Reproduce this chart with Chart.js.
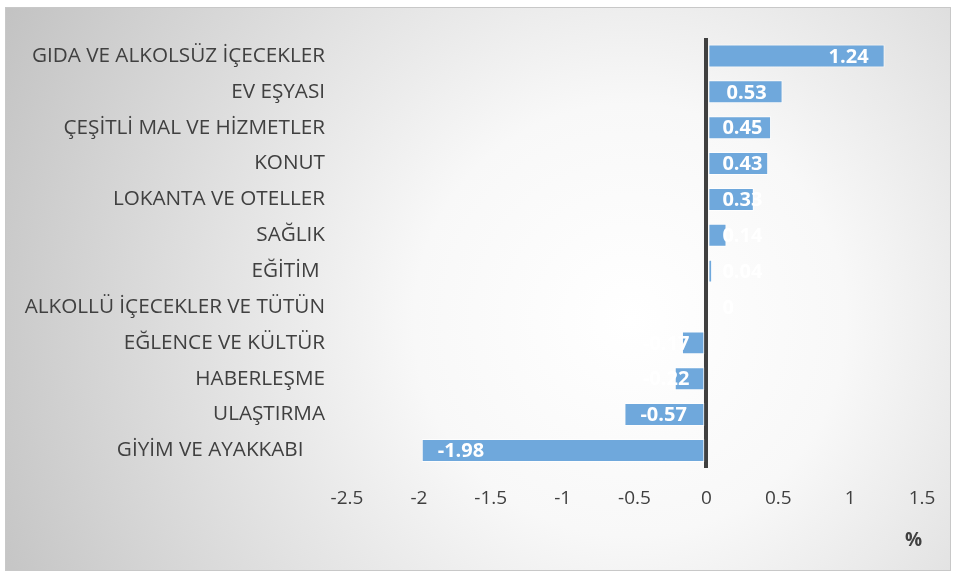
<!DOCTYPE html>
<html>
<head>
<meta charset="utf-8">
<script src="https://cdn.jsdelivr.net/npm/chart.js@4.4.0/dist/chart.umd.min.js"></script>
<style>
  html, body { margin: 0; padding: 0; background: #fff; }
  #wrap { width: 957px; height: 577px; position: relative; }
</style>
</head>
<body>
<div id="wrap"><canvas id="c" width="957" height="577"></canvas></div>
<script>
const categories = [
    'GIDA VE ALKOLSÜZ İÇECEKLER',
    'EV EŞYASI',
    'ÇEŞİTLİ MAL VE HİZMETLER',
    'KONUT',
    'LOKANTA VE OTELLER',
    'SAĞLIK',
    'EĞİTİM ',
    'ALKOLLÜ İÇECEKLER VE TÜTÜN',
    'EĞLENCE VE KÜLTÜR',
    'HABERLEŞME',
    'ULAŞTIRMA',
    'GİYİM VE AYAKKABI    '
];
const values = [1.24, 0.53, 0.45, 0.43, 0.33, 0.14, 0.04, 0, -0.17, -0.22, -0.57, -1.98];
const xMin = -2.5, xMax = 1.5, xStep = 0.5;

const fontFamily = "'Open Sans', sans-serif";
const textColor = '#404040';

// grey frame with soft radial light in the middle
const backgroundPlugin = {
    id: 'bg',
    beforeDraw(chart) {
        const ctx = chart.ctx;
        const x0 = 5, y0 = 7, x1 = 951, y1 = 571;
        const g = ctx.createRadialGradient(630, 320, 0, 630, 320, 720);
        g.addColorStop(0, '#ffffff');
        g.addColorStop(0.3, '#f8f8f8');
        g.addColorStop(1, '#c0c0c0');
        ctx.save();
        ctx.fillStyle = g;
        ctx.fillRect(x0, y0, x1 - x0, y1 - y0);
        ctx.strokeStyle = '#c8c8c8';
        ctx.lineWidth = 1;
        ctx.strokeRect(x0 + 0.5, y0 + 0.5, x1 - x0 - 1, y1 - y0 - 1);
        ctx.restore();
    }
};

// white value labels at the bar ends, kept off the zero line
const valueLabels = {
    id: 'valueLabels',
    afterDatasetsDraw(chart) {
        const ctx = chart.ctx;
        const zero = chart.scales.x.getPixelForValue(0);
        const meta = chart.getDatasetMeta(0);
        ctx.save();
        ctx.font = "bold 20px " + fontFamily;
        ctx.fillStyle = '#ffffff';
        ctx.textBaseline = 'middle';
        ctx.textAlign = 'left';
        meta.data.forEach((bar, i) => {
            const txt = String(values[i]);
            const w = ctx.measureText(txt).width;
            let left;
            if (values[i] >= 0) {
                const right = Math.max(bar.x - 16, zero + 16 + w);
                left = right - w;
            } else {
                left = Math.min(bar.x + 16, zero - 17 - w);
            }
            ctx.fillText(txt, left, bar.y + 1);
        });
        ctx.restore();
    }
};

new Chart(document.getElementById('c'), {
    type: 'bar',
    data: {
        labels: categories,
        datasets: [{
            data: values,
            backgroundColor: '#6fa8dc',
            borderColor: 'rgba(255,255,255,0.75)',
            borderWidth: 1,
            borderSkipped: false,
            barPercentage: 0.8,
            categoryPercentage: 0.8
        }]
    },
    options: {
        indexAxis: 'y',
        responsive: false,
        animation: false,
        layout: { padding: { left: 5, right: 35, top: 38, bottom: 25 } },
        plugins: {
            legend: { display: false },
            tooltip: { enabled: false }
        },
        scales: {
            x: {
                min: xMin,
                max: xMax,
                z: 1,
                border: { display: false },
                grid: {
                    drawTicks: false,
                    color: c => (c.tick && c.tick.value === 0) ? '#404040' : 'rgba(0,0,0,0)',
                    lineWidth: 4
                },
                ticks: {
                    stepSize: xStep,
                    padding: 19,
                    color: textColor,
                    font: { family: fontFamily, size: 19 },
                    callback: v => String(v)
                },
                title: {
                    display: true,
                    text: '%',
                    align: 'end',
                    color: textColor,
                    font: { family: fontFamily, size: 19, weight: 'bold' },
                    padding: { top: 0, bottom: 0 }
                }
            },
            y: {
                border: { display: false },
                grid: { display: false, drawTicks: false },
                ticks: {
                    padding: 22,
                    color: textColor,
                    font: { family: fontFamily, size: 20.7 }
                },
                afterFit(scale) { scale.width = 342; }
            }
        }
    },
    plugins: [backgroundPlugin, valueLabels]
});
</script>
</body>
</html>
